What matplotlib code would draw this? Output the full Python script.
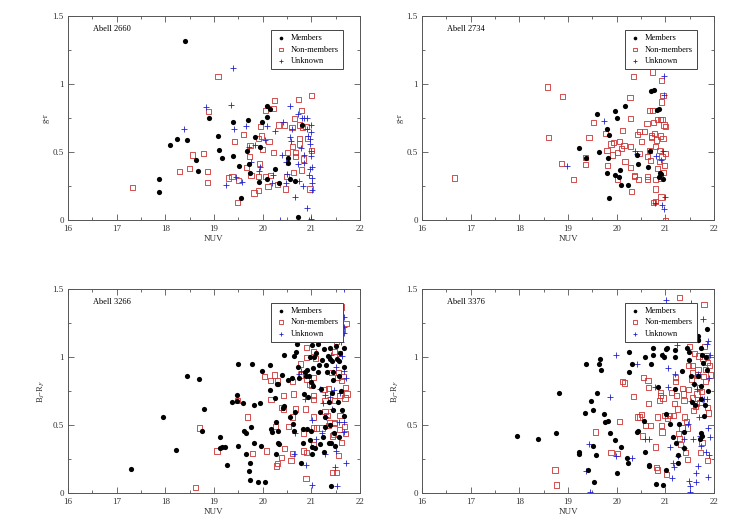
import numpy as np
import matplotlib
matplotlib.use("Agg")
import matplotlib.pyplot as plt
from matplotlib.ticker import MultipleLocator

plt.rcParams['font.family'] = ['Liberation Serif', 'DejaVu Serif']
plt.rcParams['mathtext.fontset'] = 'stix'

# ---------------- Abell 2660 (g-r) ----------------
a2660_mem_x = [18.40, 17.88, 17.88, 18.10, 18.24, 18.45, 18.64, 18.68, 18.90, 19.08, 19.10, 19.16,
               19.38, 19.40, 19.51, 19.56, 19.67, 19.69, 19.72, 19.74, 19.85, 19.93, 19.95, 19.99,
               20.08, 20.14, 20.08, 20.08, 20.25, 20.33, 20.52, 20.51, 20.57, 20.66, 20.72, 20.80]
a2660_mem_y = [1.32, 0.30, 0.21, 0.55, 0.60, 0.59, 0.44, 0.36, 0.75, 0.62, 0.52, 0.46,
               0.72, 0.47, 0.40, 0.16, 0.51, 0.74, 0.41, 0.35, 0.61, 0.28, 0.54, 0.72,
               0.84, 0.82, 0.76, 0.30, 0.38, 0.27, 0.46, 0.42, 0.30, 0.29, 0.02, 0.70]
a2660_non_x = [17.33, 18.29, 18.49, 18.55, 18.79, 18.89, 18.87, 18.86, 19.08, 19.29, 19.37, 19.42,
               19.49, 19.51, 19.60, 19.67, 19.73, 19.74, 19.76, 19.82, 19.92, 19.92, 19.93, 19.92,
               19.95, 19.97, 20.00, 20.05, 20.05, 20.11, 20.13, 20.16, 20.21, 20.25, 20.23, 20.30,
               20.33, 20.45, 20.47, 20.49, 20.51, 20.60, 20.61, 20.63, 20.66, 20.68, 20.73, 20.75,
               20.76, 20.80, 20.82, 20.84, 20.79, 20.92, 20.97, 21.01, 21.00, 20.89, 20.75, 20.67]
a2660_non_y = [0.24, 0.36, 0.38, 0.48, 0.49, 0.80, 0.36, 0.28, 1.06, 0.31, 0.32, 0.58,
               0.13, 0.29, 0.63, 0.39, 0.47, 0.55, 0.33, 0.20, 0.22, 0.32, 0.42, 0.60,
               0.69, 0.62, 0.52, 0.32, 0.81, 0.25, 0.58, 0.33, 0.82, 0.88, 0.50, 0.26,
               0.70, 0.70, 0.23, 0.32, 0.50, 0.68, 0.54, 0.35, 0.75, 0.47, 0.89, 0.60,
               0.56, 0.81, 0.68, 0.45, 0.37, 0.60, 0.23, 0.51, 0.92, 0.69, 0.70, 0.50]
a2660_unk_x = [18.38, 19.38, 19.34, 18.84, 19.42, 19.25, 19.46, 19.58, 19.66, 19.71, 19.77, 19.84,
               19.92, 19.95, 20.08, 20.05, 20.19, 20.22, 20.25, 20.36, 20.40, 20.42, 20.47, 20.49,
               20.48, 20.56, 20.56, 20.58, 20.61, 20.67, 20.72, 20.72, 20.75, 20.78, 20.81, 20.84,
               20.82, 20.85, 20.85, 20.90, 20.91, 20.92, 20.94, 20.95, 20.97, 20.97, 20.99, 20.99,
               21.00, 21.01, 21.01, 20.96, 20.99, 21.00, 21.01, 21.01, 20.97]
a2660_unk_y = [0.67, 1.12, 0.85, 0.83, 0.67, 0.26, 0.32, 0.28, 0.69, 0.54, 0.43, 0.55,
               0.36, 0.39, 0.69, 0.59, 0.27, 0.33, 0.66, 0.00, 0.48, 0.72, 0.43, 0.34,
               0.27, 0.84, 0.61, 0.58, 0.67, 0.17, 0.78, 0.41, 0.29, 0.53, 0.75, 0.75,
               0.25, 0.42, 0.48, 0.67, 0.09, 0.75, 0.62, 0.33, 0.38, 0.56, 0.70, 0.51,
               0.47, 0.27, 0.22, 0.00, 0.01, 0.65, 0.39, 0.31, 0.60]

# ---------------- Abell 2734 (g-r) ----------------
a2734_mem_x = [19.22, 19.37, 19.59, 19.63, 19.79, 19.80, 19.83, 19.85, 19.85, 19.96, 19.97, 20.01,
               20.04, 20.07, 20.09, 20.16, 20.23, 20.42, 20.44, 20.64, 20.68, 20.71, 20.77, 20.83,
               20.86, 20.86, 20.90, 20.89, 20.95]
a2734_mem_y = [0.53, 0.46, 0.78, 0.50, 0.67, 0.35, 0.46, 0.63, 0.16, 0.80, 0.33, 0.75,
               0.32, 0.37, 0.26, 0.84, 0.26, 0.48, 0.41, 0.39, 0.51, 0.95, 0.96, 0.81,
               0.82, 0.32, 0.34, 0.35, 0.30]
a2734_non_x = [16.67, 18.57, 18.60, 18.87, 18.89, 19.11, 19.35, 19.36, 19.43, 19.53, 19.77, 19.80,
               19.81, 19.88, 19.92, 19.94, 20.01, 20.02, 20.06, 20.09, 20.11, 20.15, 20.17, 20.27,
               20.29, 20.29, 20.29, 20.31, 20.34, 20.36, 20.37, 20.43, 20.45, 20.47, 20.50, 20.46,
               20.57, 20.62, 20.63, 20.63, 20.63, 20.68, 20.68, 20.69, 20.72, 20.72, 20.74, 20.74,
               20.75, 20.75, 20.77, 20.79, 20.79, 20.79, 20.80, 20.82, 20.84, 20.84, 20.87, 20.88,
               20.90, 20.90, 20.90, 20.91, 20.92, 20.92, 20.93, 20.93, 20.95, 20.95, 20.96, 20.97,
               20.98, 21.00, 21.00, 21.00]
a2734_non_y = [0.31, 0.98, 0.61, 0.42, 0.91, 0.30, 0.46, 0.41, 0.61, 0.72, 0.64, 0.51,
               0.40, 0.56, 0.48, 0.57, 0.50, 0.30, 0.58, 0.53, 0.66, 0.55, 0.43, 0.90,
               0.75, 0.54, 0.39, 0.21, 1.06, 0.33, 0.32, 0.63, 0.30, 0.65, 0.58, 0.49,
               0.65, 0.71, 0.47, 0.32, 0.30, 0.81, 0.51, 0.44, 0.62, 0.61, 1.09, 0.81,
               0.72, 0.13, 0.64, 0.54, 0.30, 0.23, 0.14, 0.59, 0.74, 0.38, 0.43, 0.51,
               0.31, 0.74, 0.62, 0.17, 1.03, 0.87, 0.74, 0.47, 0.60, 0.92, 0.35, 0.70,
               0.40, 0.69, 0.49, 0.00]
a2734_unk_x = [18.98, 19.73, 20.38, 20.42, 20.80, 20.79, 20.91, 20.92, 20.95, 20.96, 20.97, 20.96, 20.99]
a2734_unk_y = [0.40, 0.73, 0.51, 0.49, 0.47, 0.13, 0.44, 0.11, 0.51, 1.06, 0.92, 0.08, 0.17]

# ---------------- Abell 3266 (Bj-Rf) ----------------
a3266_mem_x = [17.30, 17.95, 18.21, 18.44, 18.70, 18.75, 18.79, 19.12, 19.12, 19.17, 19.23, 19.27,
               19.36, 19.47, 19.48, 19.50, 19.50, 19.59, 19.61, 19.65, 19.66, 19.71, 19.73, 19.73,
               19.77, 19.79, 19.82, 19.82, 19.90, 19.95, 19.96, 19.99, 20.05, 20.14, 20.15, 20.18,
               20.20, 20.25, 20.27, 20.27, 20.29, 20.32, 20.32, 20.32, 20.34, 20.40, 20.42, 20.44,
               20.44, 20.53, 20.56, 20.61, 20.63, 20.65, 20.65, 20.67, 20.68, 20.71, 20.72, 20.75,
               20.79, 20.82, 20.82, 20.84, 20.87, 20.89, 20.90, 20.92, 20.93, 20.95, 20.97, 20.98,
               20.99, 21.00, 21.01, 21.01, 21.01, 21.03, 21.04, 21.05, 21.07, 21.09, 21.13, 21.14,
               21.16, 21.18, 21.19, 21.21, 21.23, 21.25, 21.26, 21.28, 21.29, 21.30, 21.32, 21.34,
               21.36, 21.37, 21.38, 21.39, 21.40, 21.40, 21.42, 21.43, 21.44, 21.45, 21.45, 21.47,
               21.49, 21.51, 21.52, 21.55, 21.56, 21.57, 21.57, 21.59, 21.60, 21.62, 21.66, 21.67,
               21.68, 21.38, 21.18]
a3266_mem_y = [0.18, 0.56, 0.32, 0.86, 0.84, 0.46, 0.62, 0.41, 0.33, 0.34, 0.34, 0.21,
               0.67, 0.72, 0.68, 0.95, 0.35, 0.66, 0.46, 0.29, 0.44, 0.16, 0.22, 0.10,
               0.49, 0.95, 0.65, 0.37, 0.08, 0.66, 0.35, 0.90, 0.08, 0.76, 0.94, 0.47,
               0.45, 0.70, 0.52, 0.29, 0.80, 0.80, 0.46, 0.37, 0.36, 0.87, 0.63, 0.64,
               1.02, 0.83, 0.56, 0.85, 0.51, 0.46, 1.01, 0.60, 1.04, 1.10, 0.93, 0.85,
               0.22, 0.47, 0.37, 0.73, 0.89, 0.86, 0.47, 0.91, 0.71, 0.86, 0.39, 1.00,
               0.82, 0.46, 1.09, 0.34, 0.29, 0.92, 0.79, 1.00, 0.33, 1.03, 1.10, 0.89,
               0.94, 0.60, 0.77, 0.98, 0.41, 0.30, 1.06, 0.56, 0.49, 0.94, 0.89, 1.01,
               0.67, 0.37, 1.07, 0.99, 0.05, 0.37, 0.97, 0.74, 0.89, 0.61, 0.83, 0.44,
               0.35, 1.08, 0.99, 0.67, 0.41, 0.97, 0.86, 1.03, 0.75, 0.61, 0.93, 0.57,
               1.07, 0.50, 0.36]
a3266_non_x = [18.62, 18.71, 19.06, 19.48, 19.68, 19.79, 20.03, 20.08, 20.16, 20.17, 20.25, 20.27,
               20.28, 20.30, 20.30, 20.38, 20.39, 20.43, 20.42, 20.44, 20.53, 20.58, 20.61, 20.61,
               20.62, 20.63, 20.67, 20.77, 20.78, 20.83, 20.84, 20.88, 20.89, 20.90, 20.90, 20.90,
               20.90, 20.97, 21.01, 21.04, 21.04, 21.04, 21.04, 21.04, 21.04, 21.05, 21.08, 21.11,
               21.22, 21.26, 21.28, 21.28, 21.32, 21.35, 21.36, 21.38, 21.41, 21.43, 21.43, 21.45,
               21.47, 21.47, 21.48, 21.48, 21.51, 21.52, 21.53, 21.55, 21.56, 21.57, 21.59, 21.59,
               21.62, 21.62, 21.64, 21.66, 21.68, 21.69, 21.70, 21.71, 21.70, 21.73, 21.57, 21.62]
a3266_non_y = [0.04, 0.48, 0.31, 0.68, 0.56, 0.29, 0.86, 0.31, 0.83, 0.69, 0.87, 0.49,
               0.20, 0.22, 0.83, 0.26, 0.63, 0.62, 0.72, 0.33, 0.49, 0.24, 0.56, 0.29,
               0.82, 0.73, 0.62, 0.95, 0.87, 0.44, 0.31, 0.62, 0.11, 0.30, 1.07, 1.00,
               0.84, 0.80, 0.79, 0.85, 0.72, 0.69, 0.56, 0.48, 0.36, 1.04, 0.99, 0.48,
               0.48, 0.76, 0.60, 0.68, 0.57, 0.50, 0.77, 0.52, 0.89, 0.42, 0.15, 0.43,
               0.52, 0.51, 1.04, 0.68, 0.15, 1.12, 0.85, 0.28, 0.89, 0.47, 0.57, 0.72,
               1.37, 0.37, 1.20, 0.86, 0.49, 0.70, 0.78, 1.25, 0.44, 0.73, 1.03, 0.83]
a3266_unk_x = [21.68, 21.68, 21.66, 21.67, 21.60, 21.63, 21.68, 21.71, 21.71, 21.68, 21.67, 21.59,
               21.57, 21.51, 21.48, 21.52, 21.42, 21.38, 21.30, 21.27, 21.23, 21.21, 21.28, 21.10,
               21.01, 21.01, 20.89, 20.87, 20.79, 20.75, 20.66, 20.64, 21.41, 21.47, 21.50, 21.18]
a3266_unk_y = [1.50, 1.30, 1.22, 1.18, 1.11, 1.01, 0.90, 0.85, 0.22, 0.52, 0.45, 0.74,
               0.52, 0.31, 0.19, 0.05, 0.62, 0.71, 0.56, 0.72, 0.66, 0.44, 0.29, 0.40,
               0.54, 0.06, 0.21, 0.69, 0.90, 0.88, 0.44, 0.29, 1.02, 0.76, 0.93, 0.77]

# ---------------- Abell 3376 (Bj-Rf) ----------------
a3376_mem_x = [17.95, 18.38, 18.75, 18.82, 19.22, 19.23, 19.34, 19.37, 19.41, 19.47, 19.51, 19.51,
               19.54, 19.58, 19.60, 19.63, 19.66, 19.68, 19.74, 19.76, 19.81, 19.87, 19.96, 20.00,
               20.08, 20.20, 20.23, 20.25, 20.26, 20.32, 20.42, 20.44, 20.55, 20.58, 20.59, 20.66,
               20.67, 20.71, 20.74, 20.74, 20.80, 20.84, 20.92, 20.95, 20.97, 21.01, 21.01, 21.02,
               21.04, 21.10, 21.15, 21.19, 21.20, 21.20, 21.22, 21.26, 21.26, 21.27, 21.33, 21.38,
               21.39, 21.45, 21.49, 21.49, 21.53, 21.55, 21.59, 21.60, 21.66, 21.67, 21.67, 21.67,
               21.70, 21.72, 21.72, 21.74, 21.74, 21.75, 21.77, 21.79, 21.81, 21.83, 21.85, 21.86,
               21.88, 21.75]
a3376_mem_y = [0.42, 0.40, 0.44, 0.74, 0.30, 0.29, 0.59, 0.95, 0.17, 0.68, 0.35, 0.61,
               0.08, 0.28, 0.74, 0.95, 0.99, 0.91, 0.58, 0.52, 0.53, 0.44, 0.39, 0.15,
               0.34, 0.26, 0.22, 0.89, 1.04, 0.95, 0.45, 0.46, 0.53, 0.30, 1.00, 0.21,
               0.20, 0.95, 1.07, 1.02, 0.07, 0.78, 1.02, 0.06, 1.00, 0.17, 1.06, 0.58,
               1.07, 0.51, 0.41, 1.05, 1.00, 0.77, 0.37, 0.28, 0.22, 0.51, 0.90, 0.45,
               0.33, 1.07, 1.04, 0.98, 0.86, 0.67, 0.80, 0.65, 1.13, 1.16, 1.13, 0.86,
               0.40, 0.69, 0.79, 1.07, 0.44, 0.42, 0.96, 0.57, 0.65, 1.00, 1.21, 0.91,
               0.75, 1.02]
a3376_non_x = [18.73, 18.76, 19.57, 19.88, 20.01, 20.05, 20.12, 20.16, 20.34, 20.42, 20.46, 20.50,
               20.53, 20.55, 20.59, 20.64, 20.65, 20.66, 20.70, 20.80, 20.82, 20.83, 20.83, 20.88,
               20.90, 20.90, 20.92, 20.93, 20.95, 20.99, 21.02, 21.04, 21.09, 21.12, 21.16, 21.19,
               21.20, 21.21, 21.23, 21.25, 21.27, 21.29, 21.29, 21.31, 21.34, 21.35, 21.38, 21.37,
               21.39, 21.41, 21.43, 21.45, 21.45, 21.47, 21.48, 21.50, 21.54, 21.55, 21.56, 21.56,
               21.57, 21.59, 21.61, 21.63, 21.65, 21.66, 21.67, 21.69, 21.70, 21.71, 21.72, 21.74,
               21.75, 21.77, 21.78, 21.79, 21.81, 21.82, 21.83, 21.85, 21.86, 21.87, 21.87, 21.88,
               21.90, 21.92]
a3376_non_y = [0.17, 0.06, 0.45, 0.30, 0.29, 0.53, 0.82, 0.81, 0.71, 0.56, 0.56, 0.58,
               0.42, 0.85, 0.50, 0.83, 0.78, 0.66, 0.50, 0.34, 0.19, 0.17, 0.56, 0.68,
               0.74, 0.72, 0.50, 0.45, 0.70, 0.57, 0.14, 0.55, 0.57, 0.74, 0.57, 0.66,
               0.85, 0.82, 0.72, 0.62, 0.44, 1.44, 0.40, 0.36, 0.48, 0.77, 0.68, 0.73,
               0.56, 0.30, 0.53, 0.48, 0.25, 0.76, 0.94, 1.08, 0.84, 0.89, 0.70, 0.94,
               0.61, 1.03, 0.64, 0.66, 0.73, 0.87, 0.91, 1.01, 0.78, 0.67, 0.30, 0.75,
               0.37, 0.99, 0.86, 1.39, 1.08, 0.82, 0.91, 1.01, 0.96, 0.63, 0.24, 0.59,
               0.94, 0.87]
a3376_unk_x = [19.37, 19.43, 19.45, 19.86, 19.99, 19.99, 20.32, 20.42, 20.57, 20.67, 20.79, 20.94,
               21.02, 21.05, 21.06, 21.09, 21.14, 21.16, 21.18, 21.20, 21.24, 21.26, 21.38, 21.46,
               21.49, 21.50, 21.51, 21.52, 21.53, 21.57, 21.62, 21.63, 21.65, 21.66, 21.67, 21.69,
               21.71, 21.73, 21.76, 21.78, 21.79, 21.83, 21.85, 21.86, 21.87, 21.88, 21.88, 21.90,
               21.91, 21.90, 21.92, 21.38, 21.59]
a3376_unk_y = [0.16, 0.36, 0.01, 0.71, 0.27, 1.02, 0.26, 0.95, 0.40, 0.40, 0.78, 1.02,
               1.42, 0.78, 0.92, 0.34, 0.11, 0.22, 0.19, 0.88, 1.09, 0.27, 0.40, 0.51,
               0.09, 0.05, 0.01, 1.40, 0.68, 0.40, 0.08, 0.15, 0.77, 0.88, 0.20, 0.56,
               0.42, 0.35, 0.69, 1.28, 0.69, 0.30, 0.69, 1.10, 0.12, 0.48, 1.12, 0.85,
               0.41, 0.28, 1.02, 0.33, 0.80]

panels = [
    ("Abell 2660", "g-r", 3, a2660_mem_x, a2660_mem_y, a2660_non_x, a2660_non_y, a2660_unk_x, a2660_unk_y),
    ("Abell 2734", "g-r", 3, a2734_mem_x, a2734_mem_y, a2734_non_x, a2734_non_y, a2734_unk_x, a2734_unk_y),
    ("Abell 3266", r"B$_J$-R$_F$", 5, a3266_mem_x, a3266_mem_y, a3266_non_x, a3266_non_y, a3266_unk_x, a3266_unk_y),
    ("Abell 3376", r"B$_J$-R$_F$", 5, a3376_mem_x, a3376_mem_y, a3376_non_x, a3376_non_y, a3376_unk_x, a3376_unk_y),
]

positions = [
    [0.091, 0.583, 0.391, 0.386],
    [0.565, 0.583, 0.391, 0.386],
    [0.091, 0.066, 0.391, 0.386],
    [0.565, 0.066, 0.391, 0.386],
]

fig = plt.figure(figsize=(7.47, 5.28), dpi=100)

for pos, (name, ylab, lpad, mx, my, nx, ny, ux, uy) in zip(positions, panels):
    ax = fig.add_axes(pos)
    ax.scatter(mx, my, s=14, c='black', marker='o', linewidths=0, label='Members', zorder=3)
    ax.scatter(nx, ny, s=14, facecolors='none', edgecolors='#cc3333', marker='s',
               linewidths=0.6, label='Non-members', zorder=2)
    ax.scatter(ux, uy, s=20, c='#2222cc', marker='+', linewidths=0.6, label='Unknown', zorder=2)
    ax.set_xlim(16, 22)
    ax.set_ylim(0, 1.5)
    ax.xaxis.set_major_locator(MultipleLocator(1))
    ax.xaxis.set_minor_locator(MultipleLocator(0.5))
    ax.yaxis.set_minor_locator(MultipleLocator(0.25))
    ax.set_yticks([0, 0.5, 1, 1.5])
    ax.set_yticklabels(['0', '0.5', '1', '1.5'])
    ax.tick_params(which='both', direction='in', top=True, right=True, labelsize=6.5,
                   color='#555555', labelcolor='#333333', width=0.6)
    ax.tick_params(axis='x', pad=3.5)
    ax.tick_params(axis='y', pad=3)
    ax.tick_params(which='major', length=4)
    ax.tick_params(which='minor', length=2)
    for sp in ax.spines.values():
        sp.set_color('#555555')
        sp.set_linewidth(0.7)
    ax.set_xlabel('NUV', fontsize=6.5, labelpad=1.5, color='#333333')
    ax.set_ylabel(ylab, fontsize=6, labelpad=lpad - 1, color='#333333')
    ax.text(0.086, 0.94, name, transform=ax.transAxes, fontsize=6, va='center', ha='left')
    leg = ax.legend(loc='upper right', bbox_to_anchor=(0.94, 0.933), borderaxespad=0,
                    fontsize=6, frameon=True, fancybox=False, framealpha=1,
                    edgecolor='#444444', borderpad=0.45, handletextpad=0.5,
                    labelspacing=0.45, handlelength=1.4, markerscale=0.7)
    leg.get_frame().set_linewidth(0.7)
    leg.set_zorder(5)

fig.savefig('out.png', dpi=100)
